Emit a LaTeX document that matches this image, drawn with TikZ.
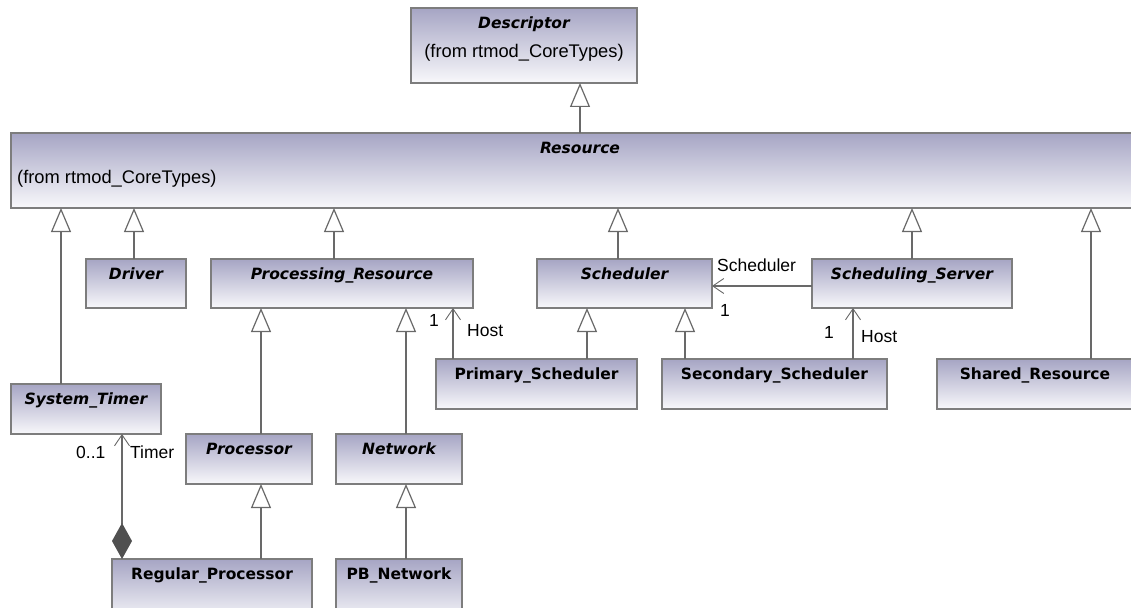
\documentclass[tikz,border=0pt]{standalone}
\usepackage{fontspec}
\setmainfont{Liberation Sans}
\newfontfamily\clsfont{DejaVu Sans}
\usetikzlibrary{arrows.meta,calc}

\definecolor{boxtop}{RGB}{166,165,196}
\definecolor{boxbot}{RGB}{248,248,251}
\definecolor{boxline}{RGB}{125,125,125}
\definecolor{conn}{RGB}{105,105,105}
\definecolor{diam}{RGB}{80,80,80}

\tikzset{
  classbox/.style={draw=boxline, line width=1.4pt, top color=boxtop, bottom color=boxbot,
    inner sep=0pt, outer sep=0pt, rectangle},
  abstitle/.style={font=\clsfont\bfseries\itshape\fontsize{15.5}{18}\selectfont, inner sep=0pt},
  cnctitle/.style={font=\clsfont\bfseries\fontsize{15.5}{18}\selectfont, inner sep=0pt},
  subtitle/.style={font=\fontsize{18.3}{21}\selectfont, inner sep=0pt},
  lbl/.style={font=\fontsize{17.5}{20}\selectfont, inner sep=0pt},
  gen/.style={draw=conn, line width=1.3pt,
    -{Triangle[open, length=24pt, width=20pt, line width=1.2pt, fill=white]}},
  assoc/.style={draw=conn, line width=1.3pt,
    -{Straight Barb[length=11pt, width=15pt, line width=0.9pt]}},
  compo/.style={draw=conn, line width=1.3pt,
    {Diamond[length=36pt, width=20pt, fill=diam, color=diam]}-{Straight Barb[length=11pt, width=15pt, line width=0.9pt]}},
}

% class box: name, x1, y1, x2, y2, title style, title
\newcommand\umlclass[7]{%
  \node[classbox, minimum width={#4-#2}, minimum height={#5-#3}, anchor=north west] (#1) at (#2,#3) {};
  \node[#6, anchor=base] (#1-t) at ($(#1.north)+(0,20.5)$) {#7};
}

\begin{document}
\begin{tikzpicture}[x=1pt, y=-1pt]
\useasboundingbox (0,0) rectangle (1131,607);
\fill[white] (0,0) rectangle (1131,607);
\clip (0,0) rectangle (1131,607);

% classes
\umlclass{desc}{411}{8}{637}{83}{abstitle}{Descriptor}
\node[subtitle, anchor=base] (desc-s) at ($(desc.north)+(0,50)$) {(from rtmod\_CoreTypes)};
\umlclass{res}{11}{133}{1149}{208}{abstitle}{Resource}
\node[subtitle, anchor=base west] (res-s) at ($(res.north west)+(6,50)$) {(from rtmod\_CoreTypes)};

\umlclass{drv}{86}{259}{186}{308}{abstitle}{Driver}
\umlclass{pr}{211}{259}{473}{308}{abstitle}{Processing\_Resource}
\umlclass{sch}{537}{259}{712}{308}{abstitle}{Scheduler}
\umlclass{ss}{812}{259}{1012}{308}{abstitle}{Scheduling\_Server}

\umlclass{ps}{436}{359}{637}{409}{cnctitle}{Primary\_Scheduler}
\umlclass{secs}{662}{359}{887}{409}{cnctitle}{Secondary\_Scheduler}
\umlclass{shr}{937}{359}{1133}{409}{cnctitle}{Shared\_Resource}

\umlclass{st}{11}{384}{161}{434}{abstitle}{System\_Timer}
\umlclass{proc}{186}{434}{312}{484}{abstitle}{Processor}
\umlclass{net}{336}{434}{462}{484}{abstitle}{Network}

\umlclass{rp}{112}{559}{312}{622}{cnctitle}{Regular\_Processor}
\umlclass{pbn}{336}{559}{462}{622}{cnctitle}{PB\_Network}

% generalizations
\coordinate (g0) at ($(desc.south)+(56,0)$);
\draw[gen] (g0 |- res.north) -- (g0);

\coordinate (g1) at ($(st.north)+(-25,0)$);
\draw[gen] (g1) -- (g1 |- res.south);
\coordinate (g2) at ($(drv.north)+(-2,0)$);
\draw[gen] (g2) -- (g2 |- res.south);
\coordinate (g3) at ($(pr.north)+(-8,0)$);
\draw[gen] (g3) -- (g3 |- res.south);
\coordinate (g4) at ($(sch.north)+(-6.5,0)$);
\draw[gen] (g4) -- (g4 |- res.south);
\coordinate (g5) at (ss.north);
\draw[gen] (g5) -- (g5 |- res.south);
\coordinate (g6) at ($(shr.north)+(56,0)$);
\draw[gen] (g6) -- (g6 |- res.south);

\coordinate (g7) at ($(proc.north)+(12,0)$);
\draw[gen] (g7) -- (g7 |- pr.south);
\coordinate (g8) at ($(net.north)+(7,0)$);
\draw[gen] (g8) -- (g8 |- pr.south);
\coordinate (g9) at ($(rp.north)+(49,0)$);
\draw[gen] (g9) -- (g9 |- proc.south);
\coordinate (g10) at ($(pbn.north)+(7,0)$);
\draw[gen] (g10) -- (g10 |- net.south);
\coordinate (g11) at ($(ps.north)+(50.5,0)$);
\draw[gen] (g11) -- (g11 |- sch.south);
\coordinate (g12) at ($(secs.north)+(-89.5,0)$);
\draw[gen] (g12) -- (g12 |- sch.south);

% associations
\coordinate (a1) at ($(ps.north west)+(17,0)$);
\draw[assoc] (a1) -- (a1 |- pr.south);
\node[lbl, anchor=base west] (a1-m) at ($(a1 |- pr.south)+(-24,18)$) {1};
\node[lbl, anchor=base west] (a1-r) at ($(a1 |- pr.south)+(14,28)$) {Host};

\coordinate (a2) at ($(secs.north west)+(191,0)$);
\draw[assoc] (a2) -- (a2 |- ss.south);
\node[lbl, anchor=base west] (a2-m) at ($(a2 |- ss.south)+(-29,30)$) {1};
\node[lbl, anchor=base west] (a2-r) at ($(a2 |- ss.south)+(8,34)$) {Host};

\coordinate (a3) at ($(ss.west)+(0,2.5)$);
\draw[assoc] (a3) -- (a3 -| sch.east);
\node[lbl, anchor=base west] (a3-r) at ($(a3 -| sch.east)+(5,-15)$) {Scheduler};
\node[lbl, anchor=base west] (a3-m) at ($(a3 -| sch.east)+(8,30)$) {1};

% composition
\coordinate (c1) at ($(rp.north west)+(10,0)$);
\draw[compo] (c1) -- (c1 |- st.south);
\node[lbl, anchor=base west] (c1-m) at ($(c1 |- st.south)+(-46,24)$) {0..1};
\node[lbl, anchor=base west] (c1-r) at ($(c1 |- st.south)+(8,24)$) {Timer};
\end{tikzpicture}
\end{document}
